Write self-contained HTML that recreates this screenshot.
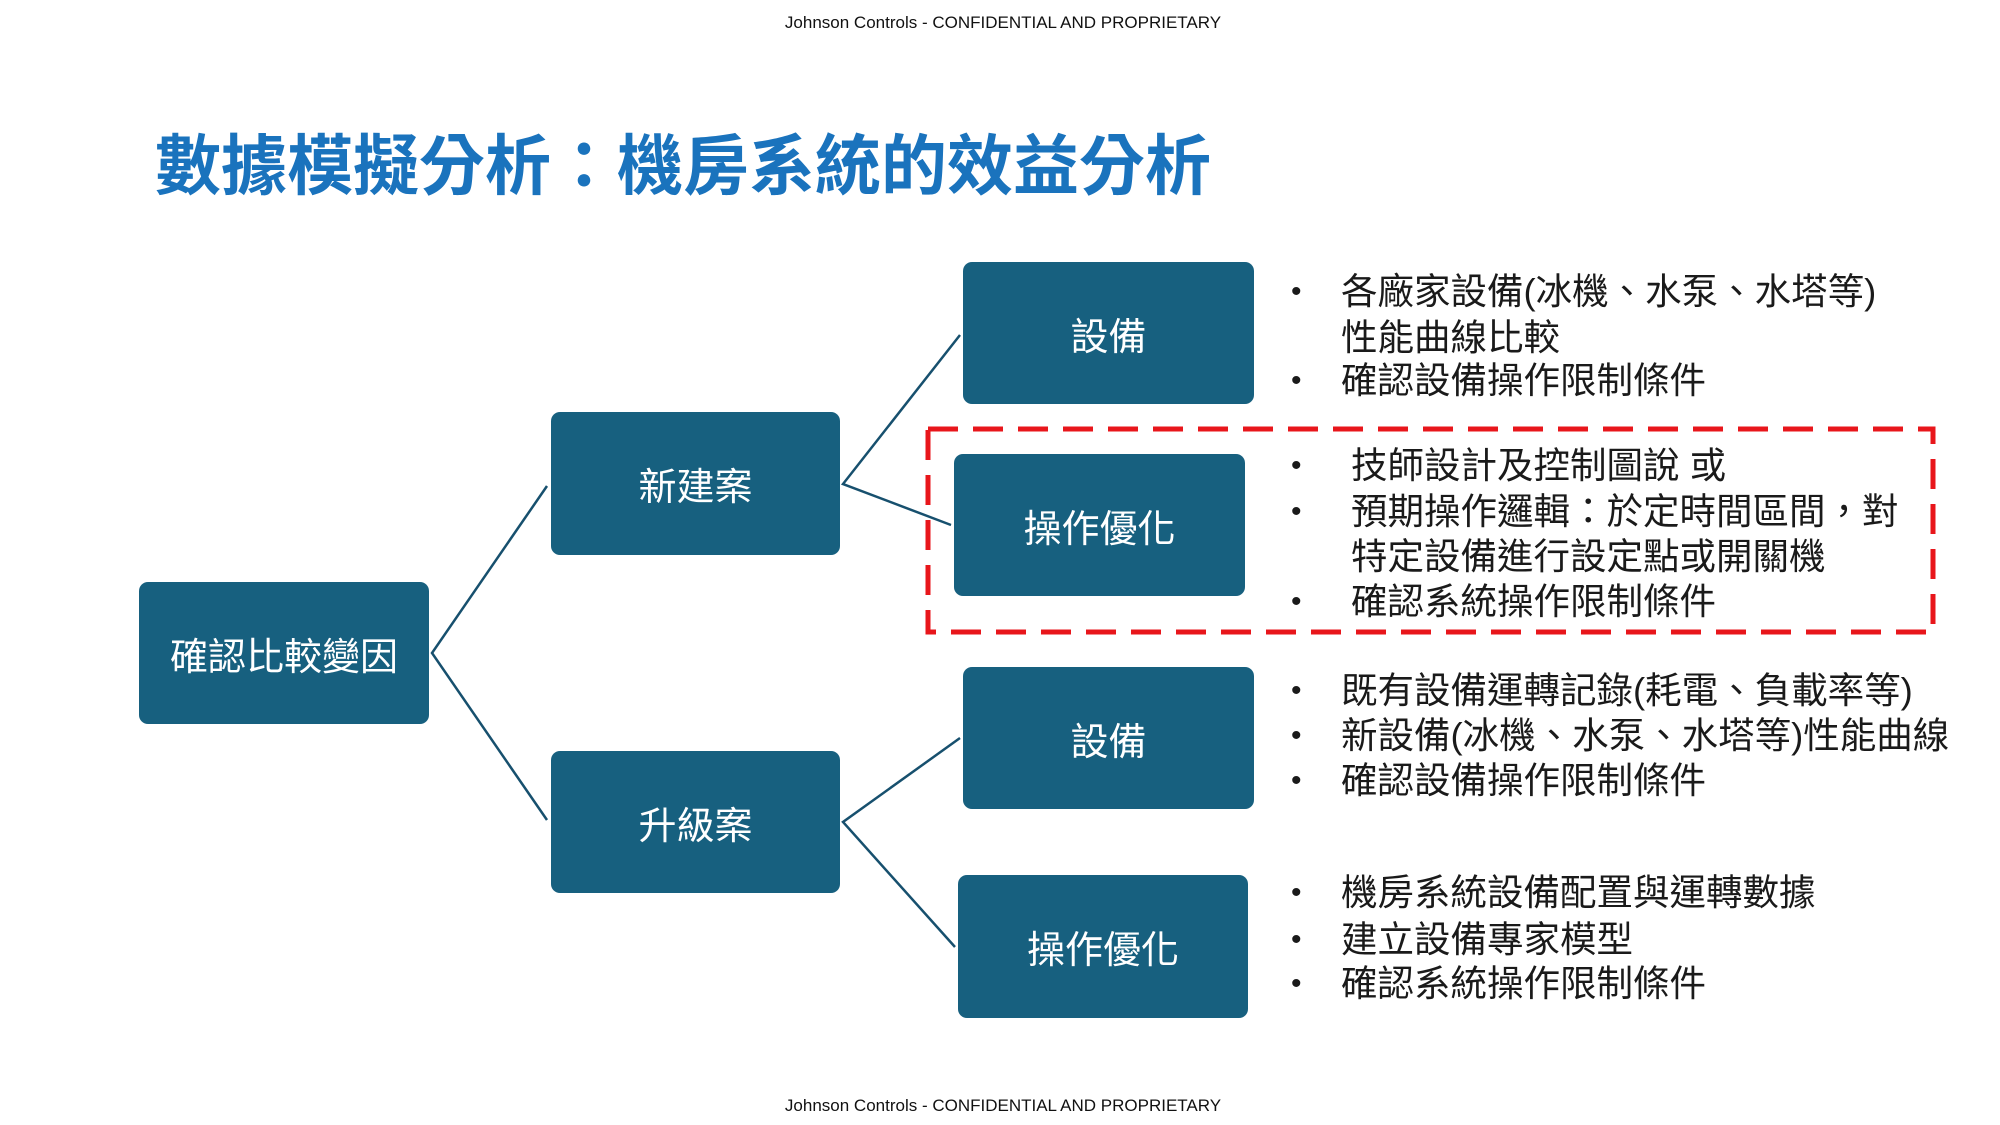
<!DOCTYPE html>
<html><head><meta charset="utf-8"><style>
body{margin:0;width:2000px;height:1125px;background:#fff;position:relative;overflow:hidden;font-family:"Liberation Sans","Noto Sans CJK TC",sans-serif}
.hdr{position:absolute;left:0;width:2006px;text-align:center;font-size:17px;color:#111}
.title{position:absolute;left:155px;top:133px;font-size:66px;font-weight:bold;color:#1a73bd;white-space:nowrap;line-height:1}
.box{position:absolute;background:#17607f;border-radius:9px;color:#fff;font-size:38px;display:flex;align-items:center;justify-content:center}
.t{position:absolute;font-size:36.5px;color:#1a1a1a;white-space:nowrap;line-height:1}
.b{position:absolute;font-size:30px;color:#1a1a1a;line-height:1}
</style></head><body>
<div class="hdr" style="top:13px">Johnson Controls - CONFIDENTIAL AND PROPRIETARY</div>
<div class="hdr" style="top:1096px">Johnson Controls - CONFIDENTIAL AND PROPRIETARY</div>
<div class="title">數據模擬分析：機房系統的效益分析</div>
<svg style="position:absolute;left:0;top:0" width="2000" height="1125">
<g stroke="#17506e" stroke-width="2.5" fill="none">
<polyline points="547,486 432,653 547,820"/>
<polyline points="960,335 843,484 951,525"/>
<polyline points="960,738 843,822 955,947"/>
</g>
<rect x="928" y="429" width="1005" height="203" fill="none" stroke="#e8161b" stroke-width="5" stroke-dasharray="30,15"/>
</svg>
<div class="box" style="left:139px;top:582px;width:290px;height:142px">確認比較變因</div>
<div class="box" style="left:551px;top:412px;width:289px;height:143px">新建案</div>
<div class="box" style="left:551px;top:751px;width:289px;height:142px">升級案</div>
<div class="box" style="left:963px;top:262px;width:291px;height:142px">設備</div>
<div class="box" style="left:954px;top:454px;width:291px;height:142px">操作優化</div>
<div class="box" style="left:963px;top:667px;width:291px;height:142px">設備</div>
<div class="box" style="left:958px;top:875px;width:290px;height:143px">操作優化</div>

<div class="b" style="left:1291px;top:277px">•</div><div class="t" style="left:1341px;top:274px">各廠家設備(冰機、水泵、水塔等)</div>
<div class="t" style="left:1341px;top:320px">性能曲線比較</div>
<div class="b" style="left:1291px;top:366px">•</div><div class="t" style="left:1341px;top:363px">確認設備操作限制條件</div>

<div class="b" style="left:1291px;top:451px">•</div><div class="t" style="left:1351px;top:448px">技師設計及控制圖說 或</div>
<div class="b" style="left:1291px;top:497px">•</div><div class="t" style="left:1351px;top:494px">預期操作邏輯：於定時間區間，對</div>
<div class="t" style="left:1351px;top:539px">特定設備進行設定點或開關機</div>
<div class="b" style="left:1291px;top:587px">•</div><div class="t" style="left:1351px;top:584px">確認系統操作限制條件</div>

<div class="b" style="left:1291px;top:676px">•</div><div class="t" style="left:1341px;top:673px">既有設備運轉記錄(耗電、負載率等)</div>
<div class="b" style="left:1291px;top:721px">•</div><div class="t" style="left:1341px;top:718px">新設備(冰機、水泵、水塔等)性能曲線</div>
<div class="b" style="left:1291px;top:766px">•</div><div class="t" style="left:1341px;top:763px">確認設備操作限制條件</div>

<div class="b" style="left:1291px;top:878px">•</div><div class="t" style="left:1341px;top:875px">機房系統設備配置與運轉數據</div>
<div class="b" style="left:1291px;top:925px">•</div><div class="t" style="left:1341px;top:922px">建立設備專家模型</div>
<div class="b" style="left:1291px;top:969px">•</div><div class="t" style="left:1341px;top:966px">確認系統操作限制條件</div>
</body></html>
